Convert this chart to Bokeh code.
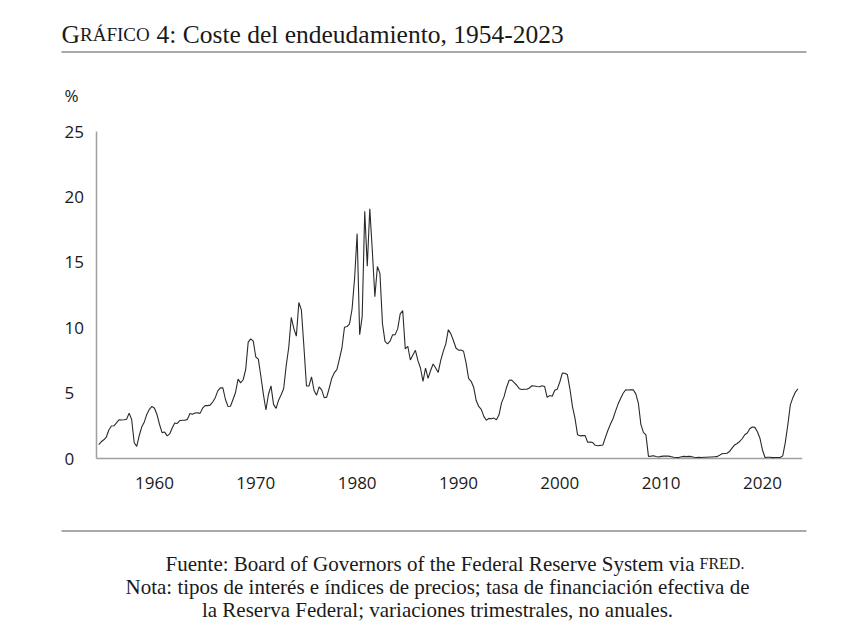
import pandas as pd
from bokeh.plotting import figure
from bokeh.layouts import column
from bokeh.models import Range1d, FixedTicker, ColumnDataSource
from bokeh.embed import file_html
from bokeh.resources import INLINE
from bokeh.core.properties import value

# Effective federal funds rate, quarterly (end of quarter), %, 1954Q3-2023Q3
first_quarter = "1954-07-01"
rate = [
    1.07, 1.28,
    1.43, 1.64, 2.18, 2.48,
    2.50, 2.73, 2.95, 2.94,
    2.96, 3.00, 3.47, 2.98,
    1.20, 0.93, 1.76, 2.42,
    2.80, 3.39, 3.76, 3.99,
    3.84, 3.36, 2.60, 1.98,
    2.02, 1.73, 1.88, 2.33,
    2.72, 2.68, 2.90, 2.93,
    2.93, 2.99, 3.44, 3.38,
    3.48, 3.50, 3.45, 3.85,
    4.04, 4.04, 4.08, 4.32,
    4.65, 5.17, 5.40, 5.40,
    4.53, 3.98, 3.99, 4.51,
    5.05, 6.07, 5.78, 6.02,
    6.79, 8.90, 9.15, 8.97,
    7.76, 7.60, 6.29, 4.90,
    3.71, 4.91, 5.55, 4.14,
    3.83, 4.46, 4.87, 5.33,
    7.09, 8.49, 10.78, 9.95,
    9.35, 11.93, 11.34, 8.53,
    5.54, 5.55, 6.24, 5.20,
    4.84, 5.48, 5.25, 4.65,
    4.69, 5.39, 6.14, 6.56,
    6.79, 7.60, 8.45, 10.03,
    10.09, 10.29, 11.43, 13.78,
    17.19, 9.47, 10.87, 18.90,
    14.70, 19.10, 15.87, 12.37,
    14.68, 14.15, 10.31, 8.95,
    8.77, 8.98, 9.45, 9.47,
    9.91, 11.06, 11.30, 8.38,
    8.58, 7.53, 7.92, 8.27,
    7.48, 6.92, 5.89, 6.91,
    6.13, 6.73, 7.22, 6.92,
    6.58, 7.50, 8.19, 8.76,
    9.85, 9.53, 9.02, 8.45,
    8.28, 8.29, 8.20, 7.31,
    6.12, 5.90, 5.45, 4.43,
    3.98, 3.76, 3.22, 2.92,
    3.07, 3.04, 3.09, 2.96,
    3.34, 4.25, 4.73, 5.45,
    5.98, 6.00, 5.80, 5.60,
    5.34, 5.27, 5.30, 5.29,
    5.39, 5.56, 5.54, 5.50,
    5.49, 5.56, 5.51, 4.68,
    4.81, 4.76, 5.22, 5.30,
    5.85, 6.53, 6.52, 6.40,
    5.31, 3.97, 3.07, 1.82,
    1.73, 1.75, 1.75, 1.24,
    1.25, 1.22, 1.01, 0.98,
    1.00, 1.03, 1.61, 2.16,
    2.63, 3.04, 3.62, 4.16,
    4.59, 4.99, 5.25, 5.24,
    5.26, 5.25, 4.94, 4.24,
    2.61, 2.00, 1.81, 0.16,
    0.18, 0.21, 0.15, 0.12,
    0.16, 0.18, 0.19, 0.18,
    0.14, 0.09, 0.08, 0.07,
    0.13, 0.16, 0.14, 0.16,
    0.14, 0.09, 0.08, 0.09,
    0.08, 0.10, 0.09, 0.12,
    0.11, 0.13, 0.14, 0.24,
    0.36, 0.38, 0.40, 0.54,
    0.79, 1.04, 1.15, 1.30,
    1.51, 1.82, 1.95, 2.27,
    2.41, 2.38, 2.04, 1.55,
    0.65, 0.08, 0.09, 0.09,
    0.07, 0.08, 0.08, 0.08,
    0.20, 1.21, 2.56, 4.10,
    4.65, 5.08, 5.33,
]

x_ticks = [1960, 1970, 1980, 1990, 2000, 2010, 2020]
x_tick_labels = ["1960", "1970", "1980", "1990", "2000", "2010", "2020"]
y_ticks = [0, 5, 10, 15, 20, 25]
y_tick_labels = ["0", "5", "10", "15", "20", "25"]
y_unit = "%"

title_cap = "G"
title_smallcaps = "RÁFICO"
title_rest = "4: Coste del endeudamiento, 1954-2023"
source_text = "Fuente: Board of Governors of the Federal Reserve System via"
source_smallcaps = "FRED"
note_lines = [
    "Nota: tipos de interés e índices de precios; tasa de financiación efectiva de",
    "la Reserva Federal; variaciones trimestrales, no anuales.",
]

SERIF = value("Liberation Serif")
SANS = value("Open Sans")
TXT = "#1a1a1a"
RULE = "#8c8c8c"
AXIS = "#a0a0a0"

# axis extent (years / percent)
x_axis_start, x_axis_end = 1954.28, 2023.95
y_axis_top = 25
# the frame also holds the tick-label gutter (36 px left) and the "%" row
px_per_year = 10.133
px_per_pct = 13.08
x_frame_start = x_axis_start - 36 / px_per_year
y_frame_top = y_axis_top + 46 / px_per_pct
y_frame_bottom = -12 / px_per_pct

dates = pd.date_range(first_quarter, periods=len(rate), freq="QS")
xdec = dates.year + (dates.month - 1) / 12.0
src = ColumnDataSource(dict(x=list(xdec), y=rate))

# ---------------- title strip ----------------
t = figure(width=856, height=62, x_range=Range1d(0, 856), y_range=Range1d(62, 0),
           output_backend="svg", toolbar_location=None, min_border=0,
           x_axis_type=None, y_axis_type=None, frame_align=False)
t.grid.visible = False
t.outline_line_color = None
t.text(x=[61], y=[34], text=[title_cap], text_font=SERIF, text_font_size="25.5px",
       text_baseline="alphabetic", text_color=TXT)
t.text(x=[79.5], y=[34], text=[title_smallcaps], text_font=SERIF, text_font_size="19px",
       text_baseline="alphabetic", text_color=TXT)
t.text(x=[156], y=[34], text=[title_rest], text_font=SERIF, text_font_size="25.5px",
       text_baseline="alphabetic", text_color=TXT)
t.segment(x0=[61], y0=[51.5], x1=[806], y1=[51.5], line_color=RULE, line_width=1.5)

# ---------------- main chart ----------------
p = figure(width=856, height=458,
           x_range=Range1d(x_frame_start, x_axis_end),
           y_range=Range1d(y_frame_bottom, y_frame_top),
           output_backend="svg", toolbar_location=None, frame_align=False,
           min_border_left=60, min_border_right=54, min_border_top=23, min_border_bottom=50)
p.grid.visible = False
p.outline_line_color = None

# axis lines
p.segment(x0=[x_axis_start], y0=[0], x1=[x_axis_start], y1=[y_axis_top],
          line_color=AXIS, line_width=1.5)
p.segment(x0=[x_axis_start], y0=[0], x1=[x_axis_end], y1=[0],
          line_color=AXIS, line_width=1.5)

# data
p.line(x="x", y="y", source=src, line_color="#2a2a2a", line_width=1.1)

# y tick labels and unit, left-aligned in the gutter
p.text(x=[x_axis_start] * len(y_ticks), y=y_ticks, text=y_tick_labels, x_offset=-32,
       text_align="left", text_baseline="middle", text_font=SANS,
       text_font_size="17px", text_color=TXT)
p.text(x=[x_axis_start], y=[27.75], text=[y_unit], x_offset=-32,
       text_align="left", text_baseline="middle", text_font=SANS,
       text_font_size="17px", text_color=TXT)

p.xaxis.ticker = FixedTicker(ticks=x_ticks)
p.xaxis.major_label_overrides = {tk: lb for tk, lb in zip(x_ticks, x_tick_labels)}
p.xaxis.major_tick_line_color = None
p.xaxis.minor_tick_line_color = None
p.xaxis.axis_line_color = None
p.xaxis.major_label_text_font = "Open Sans"
p.xaxis.major_label_text_font_size = "17px"
p.xaxis.major_label_text_color = TXT
p.xaxis.major_label_standoff = 0
p.yaxis.visible = False

# ---------------- footer ----------------
f = figure(width=856, height=101, x_range=Range1d(0, 856), y_range=Range1d(101, 0),
           output_backend="svg", toolbar_location=None, min_border=0,
           x_axis_type=None, y_axis_type=None, frame_align=False)
f.grid.visible = False
f.outline_line_color = None
f.segment(x0=[61], y0=[10.5], x1=[806], y1=[10.5], line_color=RULE, line_width=1.5)
f.text(x=[694], y=[43], text=[source_text], text_font=SERIF, text_font_size="21px",
       text_align="right", text_baseline="alphabetic", text_color=TXT)
f.text(x=[699], y=[43], text=[source_smallcaps + "."], text_font=SERIF, text_font_size="16px",
       text_align="left", text_baseline="alphabetic", text_color=TXT)
f.text(x=[437, 437], y=[66, 89], text=note_lines, text_font=SERIF, text_font_size="21px",
       text_align="center", text_baseline="alphabetic", text_color=TXT)

layout = column(t, p, f, spacing=0)
open("out.html", "w").write(file_html(layout, INLINE))
